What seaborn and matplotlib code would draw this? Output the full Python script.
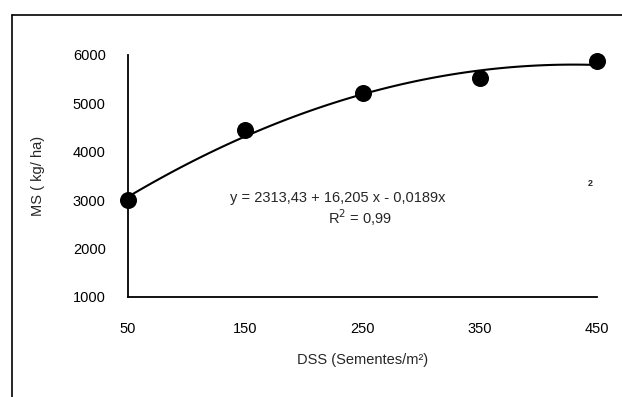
import numpy as np
import pandas as pd
import matplotlib.pyplot as plt
from matplotlib.lines import Line2D
import seaborn as sns

# dados
dss = [50, 150, 250, 350, 450]
ms = [3000, 4450, 5210, 5520, 5870]
x_ticks = [50, 150, 250, 350, 450]
y_ticks = [1000, 2000, 3000, 4000, 5000, 6000]

df = pd.DataFrame({'DSS': dss, 'MS': ms})

sns.set_style('white')
plt.rcParams['font.family'] = ['Liberation Sans', 'DejaVu Sans']

fig = plt.figure(figsize=(6.22, 3.97), dpi=100)
ax = fig.add_axes([0.2058, 0.2519, 0.754, 0.6096])

sns.regplot(data=df, x='DSS', y='MS', order=2, ci=None, ax=ax, truncate=True,
            scatter_kws={'s': 150, 'color': 'black', 'alpha': 1, 'clip_on': False,
                         'zorder': 3, 'linewidths': 0},
            line_kws={'color': 'black', 'lw': 1.5, 'clip_on': False})

ax.set_xlim(50, 450)
ax.set_ylim(1000, 6000)
ax.set_xticks(x_ticks)
ax.set_yticks(y_ticks)
ax.tick_params(axis='both', direction='out', length=4, width=1, color='black',
               labelsize=10.5, labelcolor='black')
ax.tick_params(axis='x', pad=14)
ax.tick_params(axis='y', pad=12)
for side in ['top', 'right']:
    ax.spines[side].set_visible(False)
for side in ['left', 'bottom']:
    ax.spines[side].set_color('black')
    ax.spines[side].set_linewidth(1.3)

ax.set_xlabel('DSS (Sementes/m²)', fontsize=10.5, labelpad=12)
ax.set_ylabel('MS ( kg/ ha)', fontsize=10.5, labelpad=20)

ax.text(0.2175, 0.409, 'y = 2313,43 + 16,205 x - 0,0189x', transform=ax.transAxes,
        fontsize=10.5, va='center', ha='left')
ax.text(0.985, 0.47, '2', transform=ax.transAxes, fontsize=6.5, va='center',
        ha='center', fontweight='bold')
ax.text(0.495, 0.326, 'R$^2$ = 0,99', transform=ax.transAxes,
        fontsize=10.5, va='center', ha='center')

# moldura externa
fig.add_artist(Line2D([12/622, 1], [1 - 15/397, 1 - 15/397], color='black', lw=1.2))
fig.add_artist(Line2D([12/622, 12/622], [0, 1 - 15/397], color='black', lw=1.2))

fig.savefig('out.png', dpi=100, facecolor='white')
